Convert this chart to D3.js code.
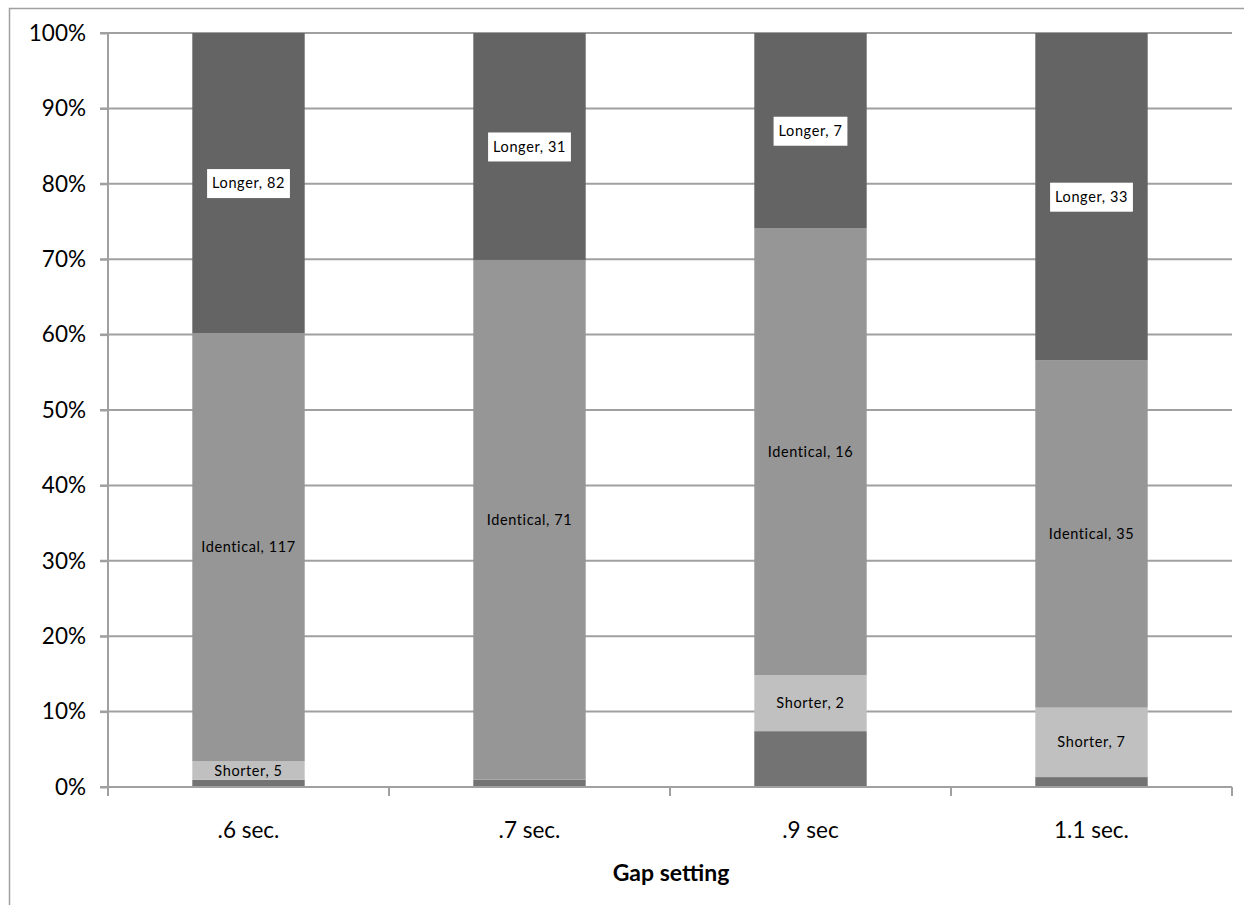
<!DOCTYPE html>
<html><head><meta charset="utf-8">
<script src="https://cdn.jsdelivr.net/npm/d3@7"></script>
<style>body{margin:0;background:#fff}</style>
</head><body>
<svg id="c" width="1244" height="905"></svg>
<script>
const categories = [".6 sec.", ".7 sec.", ".9 sec", "1.1 sec."];
const seriesNames = ["Other", "Shorter", "Identical", "Longer"];
const otherVals = [2, 1, 2, 1];
const shorterVals = [5, 0, 2, 7];
const identicalVals = [117, 71, 16, 35];
const longerVals = [82, 31, 7, 33];
const yTicks = [0, 0.1, 0.2, 0.3, 0.4, 0.5, 0.6, 0.7, 0.8, 0.9, 1];
const colors = {Other: "#737373", Shorter: "#c0c0c0", Identical: "#969696", Longer: "#646464"};
const labelled = {Other: false, Shorter: true, Identical: true, Longer: true};

const rows = categories.map((c, i) => {
  const tot = otherVals[i] + shorterVals[i] + identicalVals[i] + longerVals[i];
  return {cat: c, Other: otherVals[i] / tot, Shorter: shorterVals[i] / tot,
    Identical: identicalVals[i] / tot, Longer: longerVals[i] / tot,
    raw: {Other: otherVals[i], Shorter: shorterVals[i], Identical: identicalVals[i], Longer: longerVals[i]}};
});
const stack = d3.stack().keys(seriesNames)(rows);

const svg = d3.select("#c");
const font = "Lato, 'Open Sans', sans-serif";
const L = 108, R = 1232, T = 33, B = 787;
const x = d3.scaleBand().domain(categories).range([L, R]).paddingInner(0.6).paddingOuter(0.3);
const xTick = d3.scalePoint().domain(d3.range(categories.length + 1)).range([L, R]);
const y = d3.scaleLinear().domain([0, 1]).range([B, T]);

// outer border
svg.append("rect").attr("x", 9.5).attr("y", 8.5).attr("width", 1250).attr("height", 920)
  .attr("fill", "none").attr("stroke", "#a0a0a0").attr("stroke-width", 1.5);

// gridlines
svg.append("g").selectAll("line").data(yTicks.filter(d => d > 0)).join("line")
  .attr("x1", L - 8).attr("x2", R).attr("y1", d => y(d)).attr("y2", d => y(d))
  .attr("stroke", "#a0a0a0").attr("stroke-width", 2);

// y axis
const yAxis = d3.axisLeft(y).tickValues(yTicks).tickFormat(d3.format(".0%")).tickSize(8).tickPadding(14);
const gy = svg.append("g").attr("transform", `translate(${L},0)`).call(yAxis);
gy.select(".domain").attr("stroke", "#a0a0a0").attr("stroke-width", 2).attr("d", `M-8,${T}H0V${B}H-8`);
gy.selectAll(".tick line").attr("stroke", "#a0a0a0").attr("stroke-width", 2);
gy.selectAll(".tick text").attr("font-family", font).attr("font-size", 22.5).attr("fill", "#000");

// bars
const g = svg.append("g");
stack.forEach(s => {
  g.append("g").selectAll("rect").data(s).join("rect")
    .attr("x", d => x(d.data.cat)).attr("width", x.bandwidth())
    .attr("y", d => y(d[1])).attr("height", d => y(d[0]) - y(d[1]))
    .attr("fill", colors[s.key]);
});

// x axis
const gx = svg.append("g");
gx.append("line").attr("x1", L).attr("x2", R).attr("y1", B).attr("y2", B).attr("stroke", "#a0a0a0").attr("stroke-width", 2);
gx.selectAll("line.t").data(d3.range(categories.length + 1)).join("line").attr("class", "t")
  .attr("x1", d => xTick(d)).attr("x2", d => xTick(d)).attr("y1", B).attr("y2", B + 9)
  .attr("stroke", "#a0a0a0").attr("stroke-width", 2);
gx.selectAll("text").data(categories).join("text")
  .attr("x", d => x(d) + x.bandwidth() / 2).attr("y", 838).attr("text-anchor", "middle")
  .attr("font-family", font).attr("font-size", 22.5).attr("fill", "#000").text(d => d);

svg.append("text").attr("x", 671).attr("y", 881).attr("text-anchor", "middle")
  .attr("font-family", font).attr("font-size", 23).attr("font-weight", "bold").text("Gap setting");

// labels
const lg = svg.append("g");
stack.forEach(s => {
  if (!labelled[s.key]) return;
  s.forEach(d => {
    const v = d.data.raw[s.key];
    if (!v) return;
    const cx = x(d.data.cat) + x.bandwidth() / 2;
    const cy = (y(d[0]) + y(d[1])) / 2;
    const t = lg.append("text").attr("x", cx).attr("y", cy).attr("dy", "0.35em")
      .attr("text-anchor", "middle").attr("font-family", font).attr("font-size", 14.5)
      .attr("letter-spacing", 0.6).attr("fill", "#000").text(`${s.key}, ${v}`);
    if (s.key === "Longer") {
      const bb = t.node().getBBox();
      lg.insert("rect", () => t.node()).attr("x", bb.x - 5).attr("y", cy - 14).attr("width", bb.width + 10).attr("height", 29).attr("fill", "#fff");
    }
  });
});
</script>
</body></html>
